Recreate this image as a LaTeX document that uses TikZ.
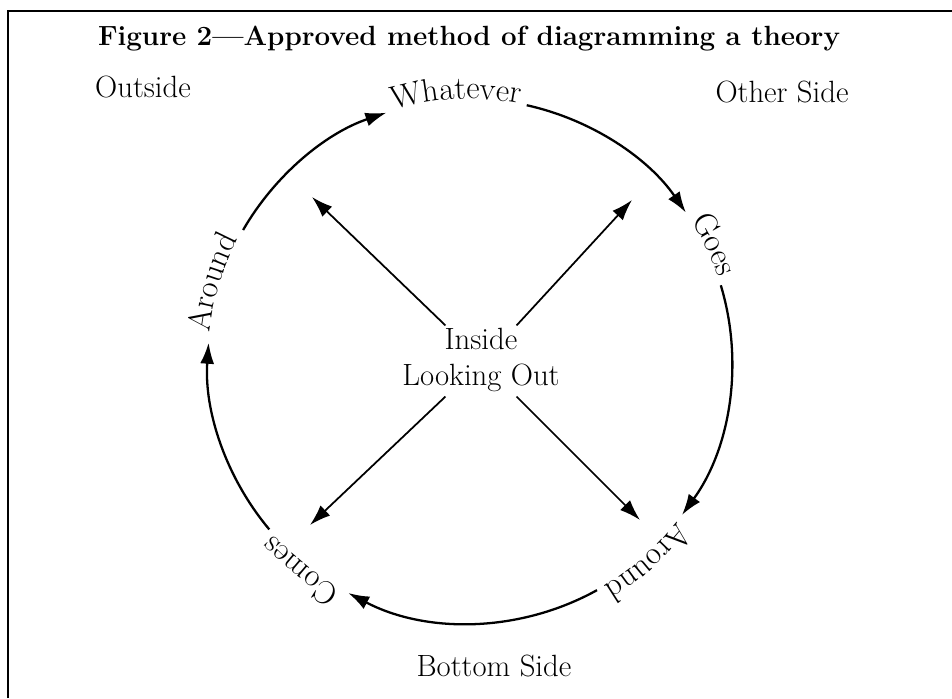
\documentclass[tikz,border=0pt]{standalone}
\usetikzlibrary{decorations.text,arrows.meta}
\newcommand\ringfont{\fontsize{18.5}{21}\selectfont}

\begin{document}
\begin{tikzpicture}[
    lbl/.style={font=\fontsize{17.5}{20}\selectfont},
    ring/.style={line width=1.3pt},
    tip/.style={-{Latex[length=4.2mm,width=2.8mm]}},
    spoke/.style={line width=1pt,tip},
    onring/.style={decorate,decoration={text along path,text align=center,
        text={|\ringfont|#1}}}
    ]
    \useasboundingbox (0,0) rectangle (19.04,13.96);
    \draw[line width=1pt] (0.16,0) -- (0.16,13.74) -- (19.04,13.74);

    \node (title) at (9.38,13.18)
        {\fontsize{15.8}{18}\selectfont\bfseries Figure 2---Approved method of diagramming a theory};
    \node [lbl] (outside) at (2.86,12.22) {Outside};
    \node [lbl] (other) at (15.64,12.12) {Other Side};
    \node [lbl] (bottom) at (9.88,0.64) {Bottom Side};

    % centre and the four spokes
    \node [lbl, align=center] (inside) at (9.62,6.76) {Inside\\Looking Out};
    \node [circle, minimum size=2cm, inner sep=0pt] (hub) at (9.62,6.74) {};
    \coordinate (nw) at (6.24,10.02);
    \coordinate (ne) at (12.64,9.96);
    \coordinate (sw) at (6.20,3.46);
    \coordinate (se) at (12.80,3.56);
    \draw [spoke] (hub.135) -- (nw);
    \draw [spoke] (hub.45) -- (ne);
    \draw [spoke] (hub.225) -- (sw);
    \draw [spoke] (hub.-45) -- (se);

    % the ring
    \begin{scope}[shift={(9.40,6.74)}]
        \def\R{5.24}
        \coordinate (r1) at (150:\R);
        \coordinate (r2) at (77.5:\R);
        \coordinate (r3) at (16.8:\R);
        \coordinate (r4) at (-61:\R);
        \coordinate (r5) at (220:\R);
        \draw [ring,tip] (r1) arc[start angle=150,end angle=108.6,radius=\R];
        \draw [ring,tip] (r2) arc[start angle=77.5,end angle=34.5,radius=\R];
        \draw [ring,tip] (r3) arc[start angle=16.8,end angle=-36,radius=\R];
        \draw [ring,tip] (r4) arc[start angle=-61,end angle=-117.7,radius=\R];
        \draw [ring,tip] (r5) arc[start angle=220,end angle=176,radius=\R];

        \path [onring=Whatever] (107:\R) arc[start angle=107,end angle=79,radius=\R];
        \path [onring=Goes] (33:\R) arc[start angle=33,end angle=18,radius=\R];
        \path [onring=Around] (-37:\R) arc[start angle=-37,end angle=-60,radius=\R];
        \path [onring=Comes] (-119:\R) arc[start angle=-119,end angle=-139,radius=\R];
        \path [onring=Around] (175:\R) arc[start angle=175,end angle=151,radius=\R];
    \end{scope}
\end{tikzpicture}
\end{document}
